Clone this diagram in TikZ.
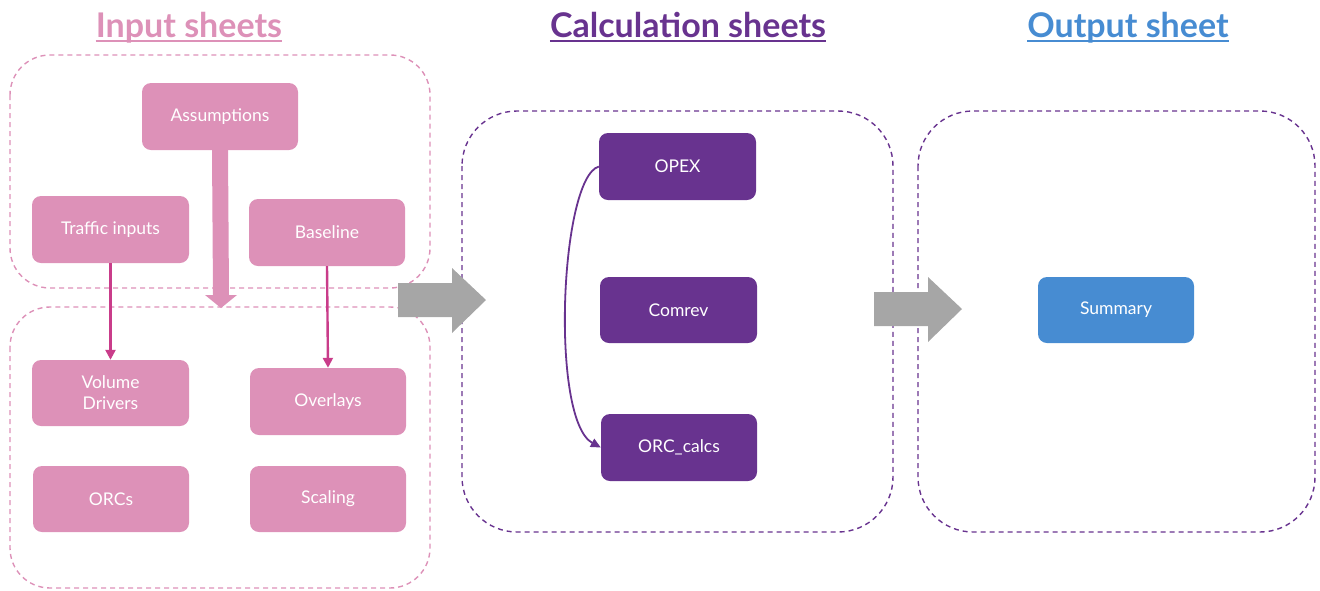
\documentclass[tikz,border=0pt]{standalone}
\usepackage{fontspec}
\setmainfont{Lato}
\usetikzlibrary{arrows.meta,calc}
\definecolor{pinkfill}{HTML}{DD91B8}
\definecolor{pinkline}{HTML}{C93C8A}
\definecolor{purp}{HTML}{68338F}
\definecolor{bluef}{HTML}{478CD2}
\definecolor{grayarr}{HTML}{A6A6A6}
\begin{document}
\begin{tikzpicture}[x=1pt,y=-1pt,
  box/.style={rounded corners=9pt, text=white, font=\fontsize{17.5}{21}\selectfont, align=center, inner sep=0pt},
  pinkbox/.style={box, fill=pinkfill},
  purpbox/.style={box, fill=purp},
  bluebox/.style={box, fill=bluef},
  group/.style={dashed, dash pattern=on 5pt off 4pt, line width=1.4pt, rounded corners=40pt},
  title/.style={font=\fontsize{34}{38}\selectfont\bfseries, inner sep=0pt, anchor=base},
  thin/.style={pinkline, line width=2.4pt, -{Triangle[length=10pt,width=10pt]}}
]
\useasboundingbox (0,0) rectangle (1320,590);
% titles
\node[title, text=pinkfill] (t1) at (189,37) {Input sheets};
\node[title, text=purp] (t2) at (688,37) {Calculation sheets};
\node[title, text=bluef] (t3) at (1128,37) {Output sheet};
\draw[pinkfill, line width=2pt] ($(t1.base west)+(0,4)$) -- ($(t1.base east)+(0,4)$);
\draw[purp, line width=2pt] ($(t2.base west)+(0,4)$) -- ($(t2.base east)+(0,4)$);
\draw[bluef, line width=2pt] ($(t3.base west)+(0,4)$) -- ($(t3.base east)+(0,4)$);
% groups
\draw[group, pinkfill] (10,55) rectangle (430,288);
\draw[group, pinkfill] (10,307) rectangle (430,588);
\draw[group, purp, rounded corners=55pt] (462,111) rectangle (893,532);
\draw[group, purp, rounded corners=55pt] (918,111) rectangle (1315,532);
% pink boxes
\node[pinkbox, minimum width=156pt, minimum height=67pt] (assume) at (220,116.5) {Assumptions};
\node[pinkbox, minimum width=157pt, minimum height=67pt] (traffic) at (110.5,229.5) {Traffic inputs};
\node[pinkbox, minimum width=156pt, minimum height=67pt] (base) at (327,232.5) {Baseline};
\node[pinkbox, minimum width=157pt, minimum height=66pt] (vol) at (110.5,393) {Volume\\Drivers};
\node[pinkbox, minimum width=156pt, minimum height=67pt] (over) at (328,401.5) {Overlays};
\node[pinkbox, minimum width=156pt, minimum height=66pt] (orcs) at (111,499) {ORCs};
\node[pinkbox, minimum width=156pt, minimum height=66pt] (scal) at (328,499) {Scaling};
% purple boxes
\node[purpbox, minimum width=157pt, minimum height=67pt] (opex) at (677.5,166.5) {OPEX};
\node[purpbox, minimum width=157pt, minimum height=66pt] (comrev) at (678.5,310) {Comrev};
\node[purpbox, minimum width=156pt, minimum height=67pt] (orccalc) at (679,447.5) {ORC\_calcs};
% summary
\node[bluebox, minimum width=156pt, minimum height=66pt] (summ) at (1116,310) {Summary};
% thick pink arrow from Assumptions
\coordinate (atip) at (221,308);
\fill[pinkfill] ($(assume.south)+(-8,0)$) -- ($(assume.south)+(8,0)$) -- (229,295) -- (237,295) -- (atip) -- (205,295) -- (213,295) -- cycle;
% thin arrows
\draw[thin] (traffic.south) -- (vol.north);
\draw[thin] (base.south) -- (over.north);
% curved arrow
\draw[purp, line width=1.8pt, -{Triangle[length=10pt,width=9pt]}] (opex.west) .. controls (560,178) and (550,420) .. (orccalc.west);
% gray block arrows
\fill[grayarr] (398,283) -- (452,283) -- (452,268) -- (486,300) -- (452,333) -- (452,317) -- (398,317) -- cycle;
\fill[grayarr] (874,292) -- (928,292) -- (928,277) -- (962,309) -- (928,342) -- (928,326) -- (874,326) -- cycle;
\end{tikzpicture}
\end{document}
